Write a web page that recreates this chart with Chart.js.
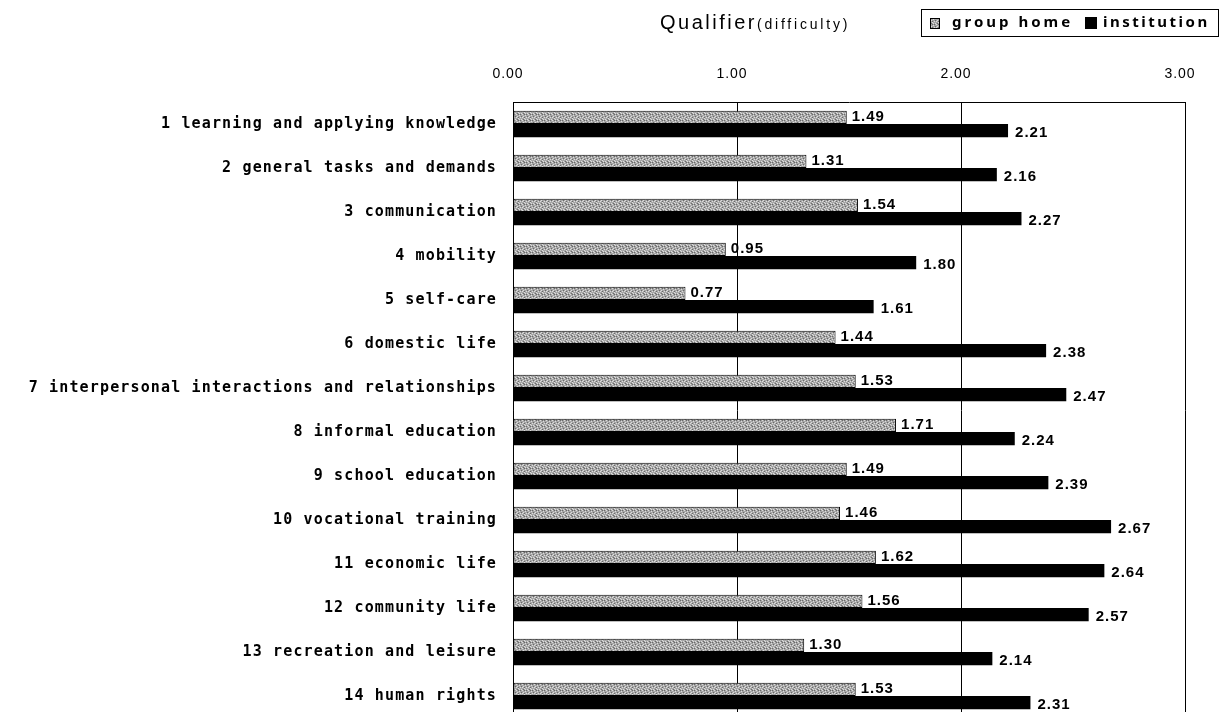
<!DOCTYPE html>
<html>
<head>
<meta charset="utf-8">
<script src="https://cdn.jsdelivr.net/npm/chart.js@4.4.1/dist/chart.umd.min.js"></script>
<style>
  html, body { margin: 0; padding: 0; background: #fff; overflow: hidden; }
  canvas { display: block; }
</style>
</head>
<body>
<canvas id="c" width="1228" height="720"></canvas>
<script>
// ---- data ----
const categories = [
  "1 learning and applying knowledge",
  "2 general tasks and demands",
  "3 communication",
  "4 mobility",
  "5 self-care",
  "6 domestic life",
  "7 interpersonal interactions and relationships",
  "8 informal education",
  "9 school education",
  "10 vocational training",
  "11 economic life",
  "12 community life",
  "13 recreation and leisure",
  "14 human rights"
];
const groupHome   = [1.49, 1.31, 1.54, 0.95, 0.77, 1.44, 1.53, 1.71, 1.49, 1.46, 1.62, 1.56, 1.30, 1.53];
const institution = [2.21, 2.16, 2.27, 1.80, 1.61, 2.38, 2.47, 2.24, 2.39, 2.67, 2.64, 2.57, 2.14, 2.31];
const seriesNames = ["group home", "institution"];
const xTicks = [0, 1, 2, 3];
const titleMain = "Qualifier";
const titleSub = "(difficulty)";

// ---- speckled gray pattern for "group home" ----
function makePattern() {
  const p = document.createElement('canvas');
  p.width = 6; p.height = 6;
  const g = p.getContext('2d');
  g.fillStyle = '#a6a6a6';
  g.fillRect(0, 0, 6, 6);
  const light = [[0,0],[3,1],[1,2],[4,3],[2,4],[5,5],[0,3],[3,5]];
  const dark = [[2,0],[5,2],[1,5],[4,0],[2,3]];
  g.fillStyle = '#dcdcdc';
  light.forEach(([x,y]) => g.fillRect(x, y, 1, 1));
  g.fillStyle = '#6a6a6a';
  dark.forEach(([x,y]) => g.fillRect(x, y, 1, 1));
  return g.createPattern(p, 'repeat');
}
const grayPattern = makePattern();

function wrapLabels(scale, spacing) {
  if (!scale || scale._spaced) return;
  const orig = scale.drawLabels;
  scale.drawLabels = function (area) {
    const c = this.ctx;
    c.save();
    c.letterSpacing = spacing;
    orig.call(this, area);
    c.restore();
  };
  scale._spaced = true;
}

const spacedLabels = {
  id: 'spacedLabels',
  afterLayout(chart) {
    wrapLabels(chart.scales.y, '1.15px');
    wrapLabels(chart.scales.x, '1px');
  }
};

const valueLabels = {
  id: 'valueLabels',
  afterDatasetsDraw(chart) {
    const ctx = chart.ctx;
    ctx.save();
    ctx.fillStyle = '#000';
    ctx.font = 'bold 15px "Liberation Sans"';
    ctx.letterSpacing = '1px';
    ctx.textAlign = 'left';
    ctx.textBaseline = 'middle';
    chart.data.datasets.forEach((ds, di) => {
      const meta = chart.getDatasetMeta(di);
      meta.data.forEach((el, i) => {
        const v = ds.data[i];
        const dx = di === 0 ? 5 : 7;
        const dy = di === 0 ? -1 : 2;
        ctx.fillText(v.toFixed(2), el.x + dx, el.y + dy);
      });
    });
    ctx.restore();
  }
};

const titleLegend = {
  id: 'titleLegend',
  afterDraw(chart) {
    const ctx = chart.ctx;
    ctx.save();
    ctx.fillStyle = '#000';
    ctx.textBaseline = 'alphabetic';
    ctx.textAlign = 'left';
    // title
    ctx.letterSpacing = '2.5px';
    ctx.font = '20px "Liberation Sans"';
    ctx.fillText(titleMain, 660, 29);
    const w = ctx.measureText(titleMain).width;
    ctx.letterSpacing = '2.8px';
    ctx.font = '14px "Liberation Sans"';
    ctx.fillText(titleSub, 660 + w, 29);
    // legend box
    ctx.letterSpacing = '0px';
    ctx.strokeStyle = '#000';
    ctx.lineWidth = 1;
    ctx.strokeRect(921.5, 9.5, 297, 27);
    // marker 1
    ctx.fillStyle = grayPattern;
    ctx.fillRect(930, 18, 10, 11);
    ctx.strokeRect(930.5, 18.5, 9, 10);
    // text 1
    ctx.fillStyle = '#000';
    ctx.font = 'bold 15px "Noto Sans"';
    ctx.letterSpacing = '3px';
    ctx.textBaseline = 'middle';
    ctx.fillText(seriesNames[0], 952, 23);
    // marker 2
    ctx.fillRect(1085, 17, 12, 12);
    ctx.letterSpacing = '2.5px';
    ctx.fillText(seriesNames[1], 1103, 23);
    ctx.restore();
  }
};

new Chart(document.getElementById('c'), {
  type: 'bar',
  data: {
    labels: categories,
    datasets: [
      {
        label: seriesNames[0],
        data: groupHome,
        backgroundColor: grayPattern,
        borderColor: '#000',
        borderWidth: 1,
        borderSkipped: false,
        categoryPercentage: 0.6,
        barPercentage: 1.0
      },
      {
        label: seriesNames[1],
        data: institution,
        backgroundColor: '#000',
        borderWidth: 0,
        categoryPercentage: 0.6,
        barPercentage: 1.0
      }
    ]
  },
  options: {
    indexAxis: 'y',
    responsive: false,
    animation: false,
    devicePixelRatio: 1,
    layout: { autoPadding: false, padding: { left: 0, right: 43, top: 0, bottom: 2 } },
    plugins: {
      legend: { display: false },
      title: { display: false },
      tooltip: { enabled: false }
    },
    scales: {
      x: {
        position: 'top',
        min: 0,
        max: 3,
        afterBuildTicks(scale) { scale.ticks = xTicks.map(v => ({ value: v })); },
        afterFit(scale) { scale.height = 102; scale.paddingLeft = 0; scale.paddingRight = 0; },
        ticks: {
          padding: 19,
          labelOffset: -5,
          color: '#000',
          font: { family: '"Liberation Sans"', size: 14 },
          callback: v => Number(v).toFixed(2)
        },
        grid: { color: '#000', lineWidth: 1, drawTicks: false },
        border: { display: true, color: '#000', width: 1 }
      },
      y: {
        afterFit(scale) { scale.width = 513; scale.paddingTop = 0; scale.paddingBottom = 0; },
        ticks: {
          padding: 16,
          color: '#000',
          font: { family: '"DejaVu Sans Mono"', size: 15, weight: 'bold' },
          autoSkip: false
        },
        grid: { display: false, drawTicks: false },
        border: { display: true, color: '#000', width: 1 }
      }
    }
  },
  plugins: [spacedLabels, valueLabels, titleLegend]
});
</script>
</body>
</html>
